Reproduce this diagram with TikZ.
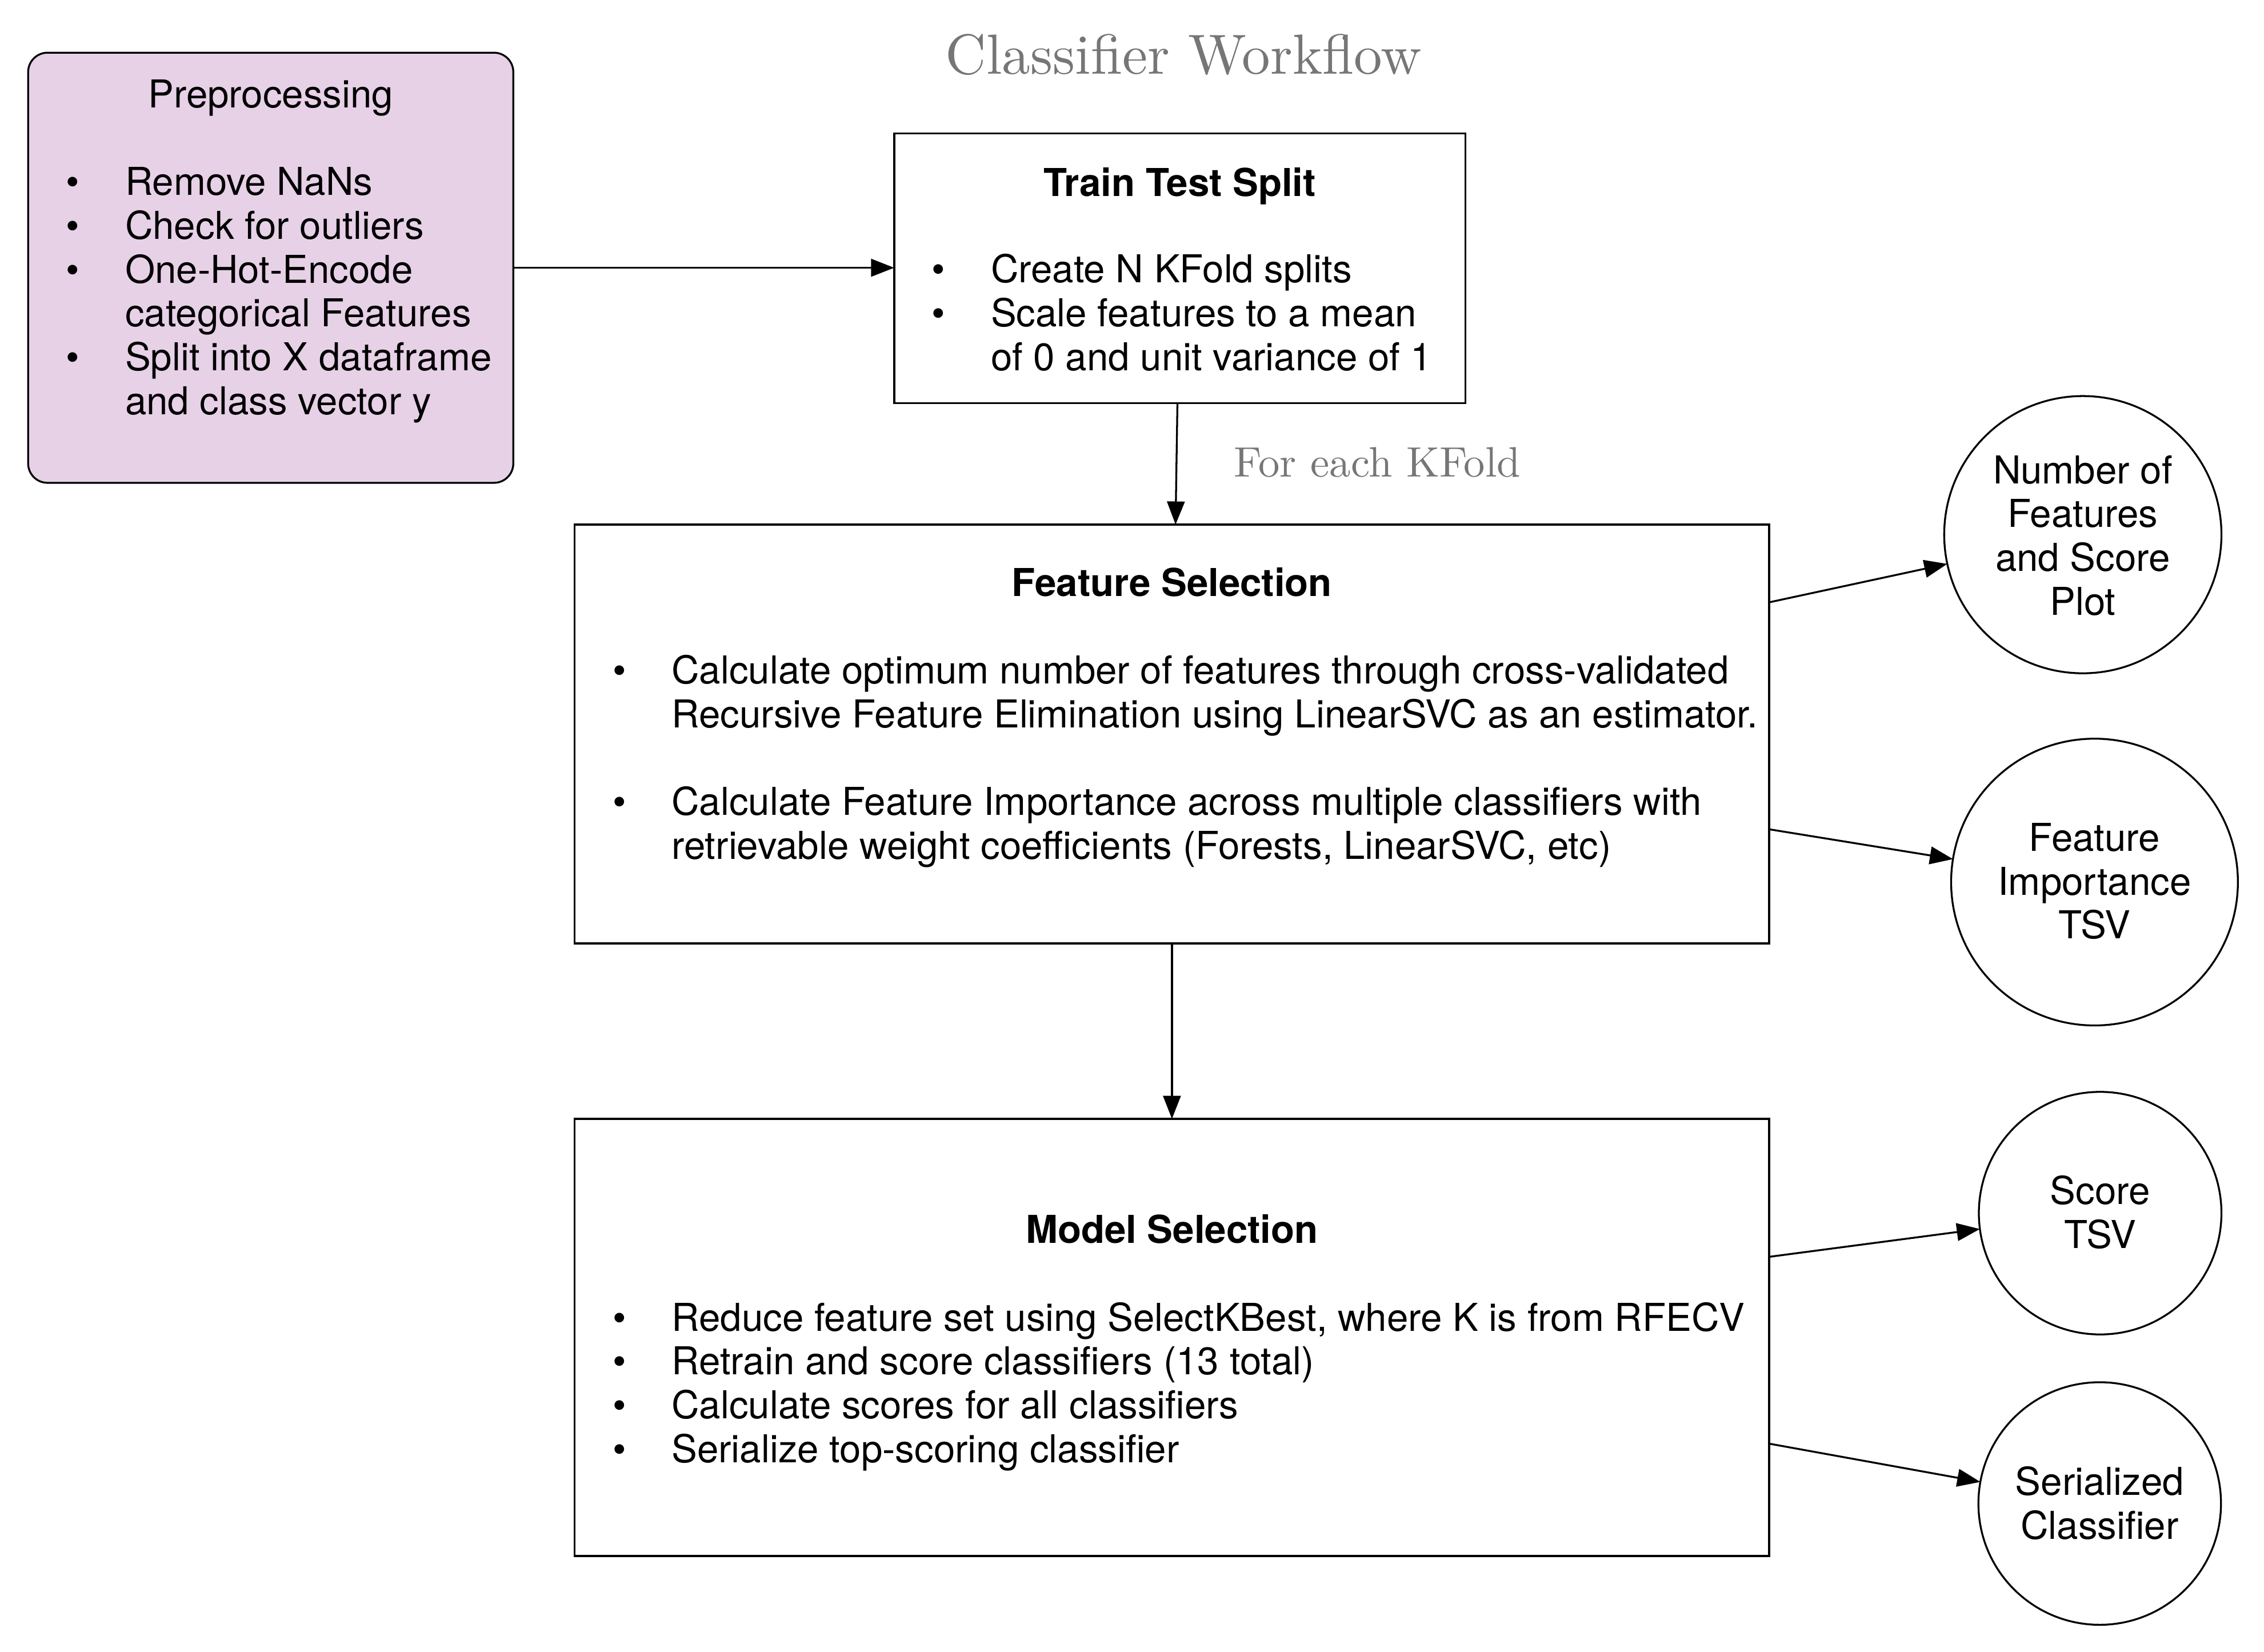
\documentclass[tikz,border=0pt]{standalone}
\usepackage{fontspec}
\usepackage{graphicx}
\newfontfamily\hvfont{TeX Gyre Heros}
\newfontfamily\lmten{lmroman10-regular.otf}
\usetikzlibrary{arrows.meta}
\definecolor{prefill}{RGB}{231,209,231}
\definecolor{titlegray}{RGB}{118,118,118}
\newcommand\bul{\makebox[0pt]{\textbullet}\hspace*{18.1pt}}
\newcommand\ind{\hspace*{18.1pt}}
\tikzset{
  box/.style={draw, line width=0.65pt, rectangle, inner sep=0pt, outer sep=0pt},
  prebox/.style={box, fill=prefill, rounded corners=6.7pt},
  circ/.style={draw, line width=0.65pt, circle, inner sep=0pt, outer sep=0pt},
  arr/.style={line width=0.65pt, -{Triangle[length=8pt,width=6.1pt]}},
  txt/.style={inner sep=0pt, outer sep=0pt, font=\hvfont\fontsize{13.3}{15.17}\selectfont},
  btxt/.style={inner sep=0pt, outer sep=0pt, font=\hvfont\bfseries\fontsize{13.3}{15.17}\selectfont},
  lmtitle/.style={inner sep=0pt, outer sep=0pt, text=titlegray, font=\lmten\fontsize{19.6}{23}\selectfont},
  lmlabel/.style={inner sep=0pt, outer sep=0pt, text=titlegray, font=\lmten\fontsize{14.75}{17}\selectfont},
}
\begin{document}
\begin{tikzpicture}[x=0.5pt,y=-0.5pt]
\useasboundingbox (0,0) rectangle (1568,1144.1);

% title
\node[lmtitle, anchor=base] (title) at (819.7,51.1) {Classifier Workflow};

% boxes
\node[prebox, minimum width=168pt, minimum height=148.95pt] (pre) at (187.5,185.45) {};
\node[box, minimum width=197.85pt, minimum height=93.4pt] (tts) at (817.15,185.8) {};
\node[box, minimum width=413.65pt, minimum height=145.05pt] (fs) at (811.65,508.35) {};
\node[box, minimum width=413.65pt, minimum height=151.35pt] (ms) at (811.65,926.25) {};

% circles
\node[circ, minimum size=96pt] (c1) at (1442.5,370.3) {};
\node[circ, minimum size=99.3pt] (c2) at (1450.6,610.9) {};
\node[circ, minimum size=84pt] (c3) at (1454.5,840.2) {};
\node[circ, minimum size=84pt] (c4) at (1454.2,1041.3) {};

% preprocessing text
\node[txt, anchor=base] (pretitle) at (187.5,74.5) {Preprocessing};
\node[txt, anchor=north west, align=left] (prelist) at (50.5,114.0)
  {\strut\bul Remove NaNs\\
   \bul Check for outliers\\
   \bul One-Hot-Encode\\
   \ind categorical Features\\
   \bul Split into X dataframe\\
   \ind and class vector y};

% train test split text
\node[btxt, anchor=base] (ttstitle) at (817.15,135.9) {Train Test Split};
\node[txt, anchor=north west, align=left] (ttslist) at (650.1,174.6)
  {\strut\bul Create N KFold splits\\
   \bul Scale features to a mean\\
   \ind of 0 and unit variance of 1};

% feature selection text
\node[btxt, anchor=base] (fstitle) at (811.65,413.0) {Feature Selection};
\node[txt, anchor=north west, align=left] (fslist) at (429,452.4)
  {\strut\bul Calculate optimum number of features through cross-validated\\
   \ind Recursive Feature Elimination using LinearSVC as an estimator.\\
   \strut\\
   \bul Calculate Feature Importance across multiple classifiers with\\
   \ind retrievable weight coefficients (Forests, LinearSVC, etc)};

% model selection text
\node[btxt, anchor=base] (mstitle) at (811.65,861.1) {Model Selection};
\node[txt, anchor=north west, align=left] (mslist) at (429,900.6)
  {\strut\bul Reduce feature set using SelectKBest, where K is from RFECV\\
   \bul Retrain and score classifiers (13 total)\\
   \bul Calculate scores for all classifiers\\
   \bul Serialize top-scoring classifier};

% circle texts
\node[txt, anchor=north, align=center] (c1text) at (1442.5,313.7)
  {\strut Number of\\ Features\\ and Score\\ Plot};
\node[txt, anchor=north, align=center] (c2text) at (1450.6,568.3)
  {\strut Feature\\ Importance\\ TSV};
\node[txt, anchor=north, align=center] (c3text) at (1454.5,812.8)
  {\strut Score\\ TSV};
\node[txt, anchor=north, align=center] (c4text) at (1454.2,1014.4)
  {\strut Serialized\\ Classifier};

% loop label
\node[lmlabel, anchor=base west] (kfold) at (854.8,330.2) {For each KFold};

% connectors
\draw[arr] (pre.east) -- (pre.east -| tts.west);
\draw[arr] ([xshift=-0.85pt]tts.south) -- ([xshift=1.25pt]fs.north);
\draw[arr] (fs.south) -- (ms.north);
\draw[arr] ([yshift=45.6pt]fs.east) -- (c1);
\draw[arr] ([yshift=-33.0pt]fs.east) -- (c2);
\draw[arr] ([yshift=27.9pt]ms.east) -- (c3);
\draw[arr] ([yshift=-36.8pt]ms.east) -- (c4);
\end{tikzpicture}
\end{document}
